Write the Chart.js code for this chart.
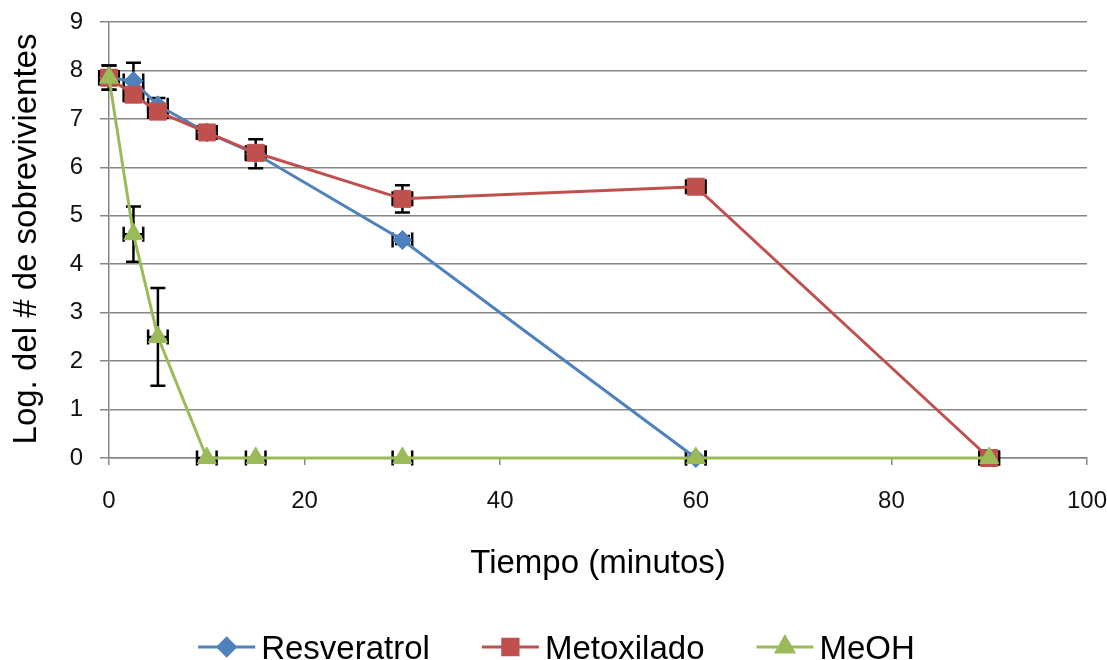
<!DOCTYPE html>
<html>
<head>
<meta charset="utf-8">
<script src="https://cdn.jsdelivr.net/npm/chart.js@4.4.1/dist/chart.umd.min.js"></script>
<style>
  html, body { margin: 0; padding: 0; background: #ffffff; }
  #wrap { width: 1107px; height: 660px; }
</style>
</head>
<body>
<div id="wrap"><canvas id="c" width="1107" height="660"></canvas></div>
<script>
// Tiempo de exposición (minutos)
const tiempo = [0, 2.5, 5, 10, 15, 30, 60, 90];

// Log. del número de sobrevivientes por tratamiento
const resveratrol = [7.85, 7.78, 7.28, 6.72, 6.28, 4.50, 0.00];
const metoxilado  = [7.85, 7.50, 7.15, 6.72, 6.30, 5.35, 5.60, 0.00];
const meoh        = [7.85, 4.62, 2.50, 0.00, 0.00, 0.00, 0.00, 0.00];

// Barras de error en Y (±) para cada serie
const resveratrolErr = [0.25, 0.38, 0.15, 0.08, 0.30, 0.08, 0];
const metoxiladoErr  = [0.15, 0.10, 0.10, 0.08, 0.10, 0.28, 0.05, 0];
const meohErr        = [0.25, 0.57, 1.01, 0, 0, 0, 0, 0];

// Barras de error en X (± minutos)
const tiempoErr = [1, 1, 1, 1, 1, 1, 1, 1];

const xTicks = [0, 20, 40, 60, 80, 100];
const yTicks = [0, 1, 2, 3, 4, 5, 6, 7, 8, 9];

const FONT = '"Liberation Sans", Arial, sans-serif';

function puntos(valores) {
  return valores.map((v, i) => ({ x: tiempo[i], y: v }));
}

const series = [
  { label: 'Resveratrol', data: resveratrol, err: resveratrolErr, color: '#4F81BD', style: 'rectRot', radius: 9.5, order: 2 },
  { label: 'Metoxilado',  data: metoxilado,  err: metoxiladoErr,  color: '#C0504D', style: 'rect',    radius: 12, order: 1 },
  { label: 'MeOH',        data: meoh,        err: meohErr,        color: '#9BBB59', style: 'triangle', radius: 11, order: 0 }
];

// Barras de error (se dibujan debajo de líneas y marcadores)
const errorBars = {
  id: 'errorBars',
  beforeDatasetsDraw(chart) {
    const ctx = chart.ctx;
    const xs = chart.scales.x, ys = chart.scales.y;
    ctx.save();
    ctx.strokeStyle = '#000000';
    ctx.lineWidth = 2.5;
    ctx.lineCap = 'butt';
    series.forEach((s) => {
      s.data.forEach((v, i) => {
        const px = xs.getPixelForValue(tiempo[i]);
        const py = ys.getPixelForValue(v);
        const ey = s.err[i];
        if (ey > 0) {
          const t = ys.getPixelForValue(v + ey);
          const b = ys.getPixelForValue(v - ey);
          ctx.beginPath();
          ctx.moveTo(px, t); ctx.lineTo(px, b);
          ctx.moveTo(px - 7.5, t); ctx.lineTo(px + 7.5, t);
          ctx.moveTo(px - 7.5, b); ctx.lineTo(px + 7.5, b);
          ctx.stroke();
        }
        const ex = tiempoErr[i];
        if (ex > 0) {
          const l = xs.getPixelForValue(tiempo[i] - ex);
          const r = xs.getPixelForValue(tiempo[i] + ex);
          ctx.beginPath();
          ctx.moveTo(l, py); ctx.lineTo(r, py);
          ctx.moveTo(l, py - 7.5); ctx.lineTo(l, py + 7.5);
          ctx.moveTo(r, py - 7.5); ctx.lineTo(r, py + 7.5);
          ctx.stroke();
        }
      });
    });
    ctx.restore();
  }
};

// Títulos de ejes y leyenda inferior
const titlesAndLegend = {
  id: 'titlesAndLegend',
  afterDraw(chart) {
    const ctx = chart.ctx;
    const area = chart.chartArea;
    ctx.save();
    ctx.fillStyle = '#000000';
    ctx.font = '33px ' + FONT;
    ctx.textAlign = 'center';
    ctx.textBaseline = 'middle';
    ctx.fillText('Tiempo (minutos)', (area.left + area.right) / 2, 564);

    ctx.save();
    ctx.translate(27, (area.top + area.bottom) / 2 - 1);
    ctx.rotate(-Math.PI / 2);
    ctx.fillText('Log. del # de sobrevivientes', 0, 0);
    ctx.restore();

    // Leyenda
    const lineLen = 57, gapText = 6, gapItem = 52;
    const widths = series.map(s => ctx.measureText(s.label).width);
    const total = widths.reduce((a, b) => a + b, 0) + series.length * (lineLen + gapText) + gapItem * (series.length - 1);
    let x = chart.width / 2 - total / 2 + 3;
    const lineY = 647, baseY = 659;
    series.forEach((s, i) => {
      ctx.strokeStyle = s.color;
      ctx.lineWidth = 3;
      ctx.beginPath();
      ctx.moveTo(x, lineY); ctx.lineTo(x + lineLen, lineY);
      ctx.stroke();
      ctx.fillStyle = s.color;
      Chart.helpers.drawPoint(ctx, { pointStyle: s.style, rotation: 0, borderWidth: 1, radius: s.radius * 0.9 }, x + lineLen / 2, lineY);
      ctx.fillStyle = '#000000';
      ctx.textAlign = 'left';
      ctx.textBaseline = 'alphabetic';
      ctx.fillText(s.label, x + lineLen + gapText, baseY);
      x += lineLen + gapText + widths[i] + gapItem;
    });
    ctx.restore();
  }
};

new Chart(document.getElementById('c'), {
  type: 'line',
  data: {
    datasets: series.map(s => ({
      label: s.label,
      data: puntos(s.data),
      borderColor: s.color,
      backgroundColor: s.color,
      pointBackgroundColor: s.color,
      pointBorderColor: s.color,
      pointStyle: s.style,
      pointRadius: s.radius,
      pointBorderWidth: 1,
      borderWidth: 3,
      tension: 0,
      fill: false,
      clip: false,
      order: s.order
    }))
  },
  options: {
    responsive: false,
    animation: false,
    devicePixelRatio: 1,
    layout: { padding: { top: 22, right: 20, bottom: 0, left: 0 } },
    plugins: {
      legend: { display: false },
      tooltip: { enabled: false },
      title: { display: false }
    },
    scales: {
      x: {
        type: 'linear',
        min: 0,
        max: 100,
        afterFit(scale) {
          scale.height = 202;
          scale.paddingLeft = 0;
          scale.paddingRight = 0;
        },
        afterBuildTicks(scale) { scale.ticks = xTicks.map(v => ({ value: v })); },
        grid: { display: true, drawOnChartArea: false, drawTicks: true, tickLength: 7, color: '#868686', lineWidth: 1.5 },
        border: { display: true, color: '#868686', width: 1.5 },
        ticks: { font: { family: FONT, size: 24 }, color: '#111111', padding: 22, maxRotation: 0 }
      },
      y: {
        type: 'linear',
        min: 0,
        max: 9,
        afterFit(scale) {
          scale.width = 109;
          scale.paddingTop = 0;
          scale.paddingBottom = 0;
        },
        afterBuildTicks(scale) { scale.ticks = yTicks.map(v => ({ value: v })); },
        grid: { display: true, drawOnChartArea: true, drawTicks: true, tickLength: 9, color: '#868686', lineWidth: 1.5 },
        border: { display: true, color: '#868686', width: 1.5 },
        ticks: { font: { family: FONT, size: 24 }, color: '#111111', padding: 17 }
      }
    }
  },
  plugins: [errorBars, titlesAndLegend]
});
</script>
</body>
</html>
